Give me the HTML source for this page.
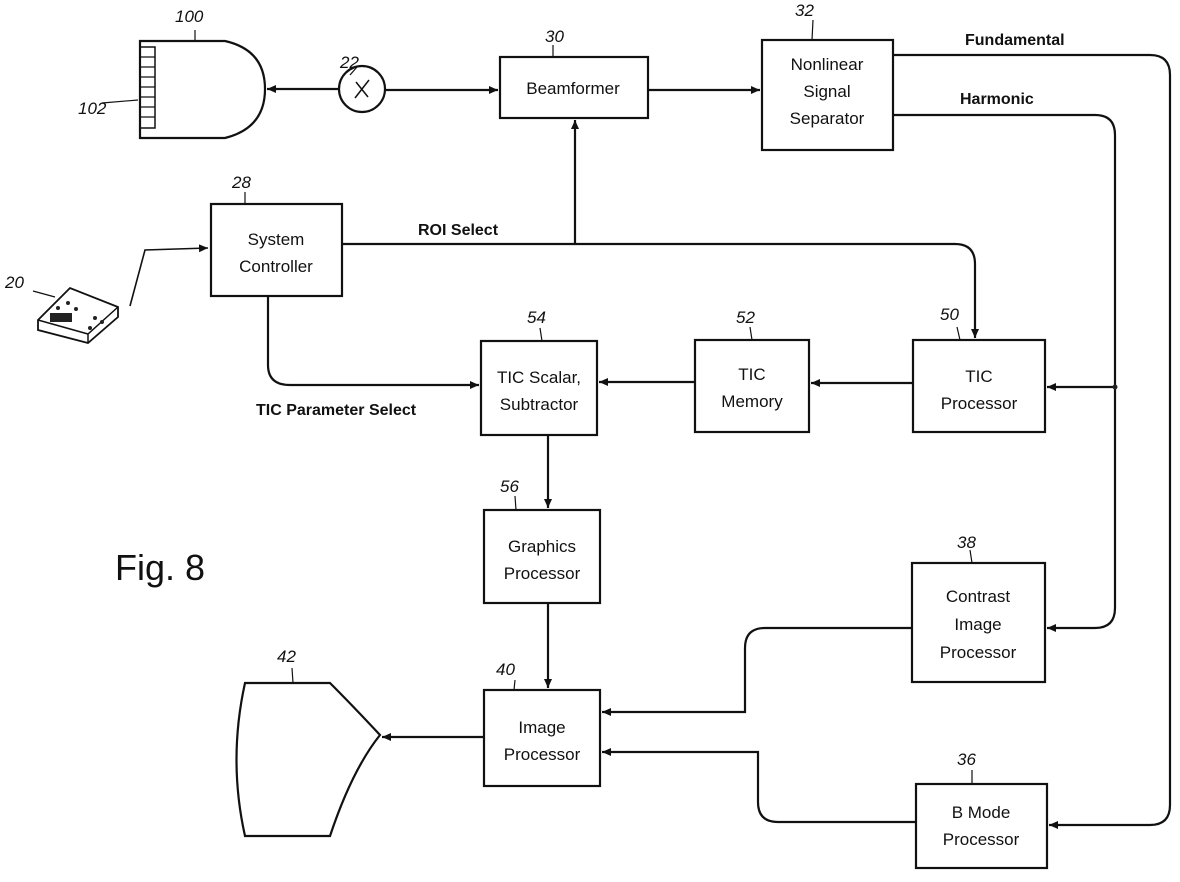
<!DOCTYPE html>
<html><head><meta charset="utf-8"><style>
html,body{margin:0;padding:0;background:#fff;}
svg{display:block;}
text{font-family:"Liberation Sans",sans-serif;fill:#111;}
.n{font-family:"Liberation Serif",serif;font-style:italic;font-size:17px;}
</style></head><body>
<svg width="1180" height="882" viewBox="0 0 1180 882" xmlns="http://www.w3.org/2000/svg">
<defs><marker id="a" markerWidth="10" markerHeight="10" refX="9" refY="5" orient="auto" markerUnits="userSpaceOnUse"><path d="M0,1 L9,5 L0,9 z" fill="#111"/></marker></defs>
<g fill="none" stroke="#111" stroke-width="2.2">
<!-- boxes -->
<rect x="500" y="57" width="148" height="61"/>
<rect x="762" y="40" width="131" height="110"/>
<rect x="211" y="204" width="131" height="92"/>
<rect x="481" y="341" width="116" height="94"/>
<rect x="695" y="340" width="114" height="92"/>
<rect x="913" y="340" width="132" height="92"/>
<rect x="484" y="510" width="116" height="93"/>
<rect x="484" y="690" width="116" height="96"/>
<rect x="912" y="563" width="133" height="119"/>
<rect x="916" y="784" width="131" height="84"/>
<!-- probe -->
<path d="M140,41 L225,41 Q265,50 265,89 Q265,128 225,138 L140,138 Z"/>
<rect x="140" y="47" width="15" height="81" stroke-width="1.5"/>
<path d="M140,57H155M140,67H155M140,77H155M140,87H155M140,97H155M140,107H155M140,117H155" stroke-width="1.2"/>
<circle cx="362" cy="89" r="23"/>
<path d="M355,98 L369,80 M356,82 L368,97" stroke-width="1.5"/>
<!-- display 42 -->
<path d="M245,683 L330,683 Q352,705 380,735 Q352,770 330,836 L245,836 Q228,760 245,683 Z"/>
<!-- connectors -->
<path d="M339,89 L267,89" marker-end="url(#a)"/>
<path d="M385,90 L498,90" marker-end="url(#a)"/>
<path d="M648,90 L760,90" marker-end="url(#a)"/>
<path d="M893,55 L1150,55 Q1170,55 1170,75 L1170,805 Q1170,825 1150,825 L1049,825" marker-end="url(#a)"/>
<path d="M893,115 L1095,115 Q1115,115 1115,135 L1115,608 Q1115,628 1095,628 L1047,628" marker-end="url(#a)"/>
<path d="M1115,387 L1047,387" marker-end="url(#a)"/>
<path d="M342,244 L955,244 Q975,244 975,264 L975,338" marker-end="url(#a)"/>
<path d="M575,244 L575,120" marker-end="url(#a)"/>
<path d="M268,296 L268,365 Q268,385 290,385 L479,385" marker-end="url(#a)"/>
<path d="M913,383 L811,383" marker-end="url(#a)"/>
<path d="M695,382 L599,382" marker-end="url(#a)"/>
<path d="M548,435 L548,508" marker-end="url(#a)"/>
<path d="M548,603 L548,688" marker-end="url(#a)"/>
<path d="M912,628 L765,628 Q745,628 745,648 L745,712 L602,712" marker-end="url(#a)"/>
<path d="M916,822 L778,822 Q758,822 758,802 L758,752 L602,752" marker-end="url(#a)"/>
<path d="M484,737 L382,737" marker-end="url(#a)"/>
<path d="M98,290 L130,300 L145,280 L100,300" stroke-width="0"/>
<path d="M130,306 L145,250 L208,248" stroke-width="1.6" marker-end="url(#a)"/>
<!-- console -->
<path d="M38,320 L70,288 L118,307 L118,317 L88,343 L38,330 Z" stroke-width="1.8"/>
<path d="M38,320 L88,334 L118,307 M88,334 L88,343" stroke-width="1.5"/>
<path d="M33,291 L55,297" stroke-width="1.3"/>
<!-- leaders -->
<path d="M195,30 L195,41 M102,103 L138,100 M350,75 L357,67 M553,45 L553,57 M813,20 L812,40 M245,192 L245,205 M540,328 L542,341 M750,327 L752,340 M957,327 L960,340 M515,496 L516,510 M970,550 L972,563 M515,680 L514,690 M292,668 L293,683 M972,770 L972,784" stroke-width="1.2"/>
</g>
<g fill="#222">
<circle cx="58" cy="308" r="2"/><circle cx="68" cy="303" r="2"/><circle cx="76" cy="309" r="2"/><circle cx="95" cy="318" r="2"/><circle cx="90" cy="328" r="2"/><circle cx="102" cy="322" r="2"/>
<rect x="50" y="313" width="22" height="9"/>
<circle cx="1115" cy="387" r="2.5"/>
</g>
<g font-size="17" text-anchor="middle">
<text x="573" y="94">Beamformer</text>
<text x="827" y="70">Nonlinear</text><text x="827" y="97">Signal</text><text x="827" y="124">Separator</text>
<text x="276" y="245">System</text><text x="276" y="272">Controller</text>
<text x="539" y="383">TIC Scalar,</text><text x="539" y="410">Subtractor</text>
<text x="752" y="380">TIC</text><text x="752" y="407">Memory</text>
<text x="979" y="382">TIC</text><text x="979" y="409">Processor</text>
<text x="542" y="552">Graphics</text><text x="542" y="579">Processor</text>
<text x="542" y="733">Image</text><text x="542" y="760">Processor</text>
<text x="978" y="602">Contrast</text><text x="978" y="630">Image</text><text x="978" y="658">Processor</text>
<text x="981" y="818">B Mode</text><text x="981" y="845">Processor</text>
</g>
<g font-size="16" font-weight="bold">
<text x="965" y="45">Fundamental</text>
<text x="960" y="104">Harmonic</text>
<text x="418" y="235">ROI Select</text>
<text x="256" y="415">TIC Parameter Select</text>
</g>
<text x="115" y="580" font-size="36">Fig. 8</text>
<g class="n">
<text x="175" y="22">100</text><text x="78" y="114">102</text><text x="340" y="68">22</text>
<text x="545" y="42">30</text><text x="795" y="16">32</text><text x="232" y="188">28</text>
<text x="5" y="288">20</text><text x="527" y="323">54</text><text x="736" y="323">52</text>
<text x="940" y="320">50</text><text x="500" y="492">56</text><text x="957" y="548">38</text>
<text x="496" y="675">40</text><text x="277" y="662">42</text><text x="957" y="765">36</text>
</g>
</svg>
</body></html>
